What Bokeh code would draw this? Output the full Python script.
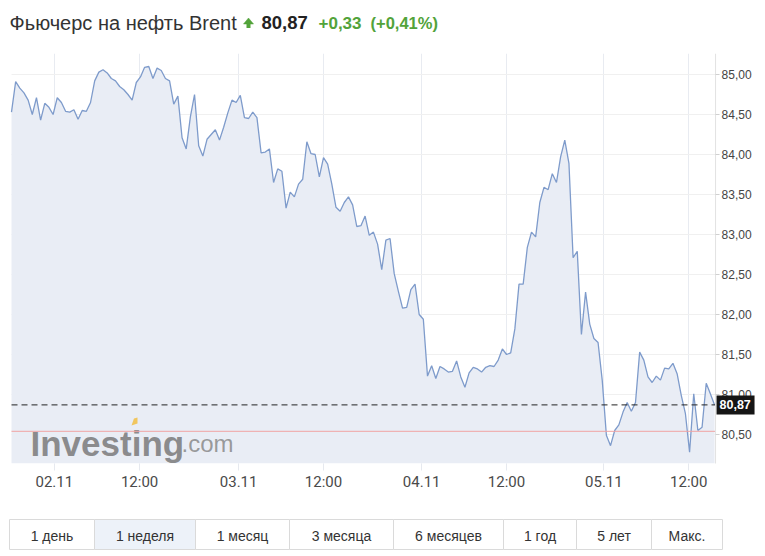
from bokeh.plotting import figure
from bokeh.layouts import column
from bokeh.models import Range1d, FixedTicker
from bokeh.core.properties import value
from bokeh.embed import file_html
from bokeh.resources import INLINE

# ---------------- data ----------------
prices = [
    84.53, 84.91, 84.83, 84.77, 84.68, 84.50, 84.71, 84.43, 84.64, 84.59,
    84.50, 84.71, 84.65, 84.54, 84.53, 84.56, 84.44, 84.55, 84.54, 84.65,
    84.92, 85.03, 85.06, 85.02, 84.95, 84.92, 84.85, 84.81, 84.75, 84.68,
    84.90, 84.97, 85.09, 85.10, 84.95, 85.08, 85.05, 84.95, 84.92, 84.63,
    84.73, 84.21, 84.07, 84.47, 84.75, 84.11, 83.98, 84.19, 84.25, 84.31,
    84.18, 84.34, 84.52, 84.68, 84.65, 84.74, 84.46, 84.45, 84.53, 84.46,
    84.02, 84.03, 84.07, 83.65, 83.82, 83.79, 83.33, 83.53, 83.47, 83.63,
    83.69, 84.16, 84.01, 84.00, 83.72, 83.96, 83.88, 83.63, 83.34, 83.29,
    83.40, 83.47, 83.37, 83.10, 83.11, 83.23, 82.99, 83.03, 82.88, 82.56,
    82.93, 82.95, 82.51, 82.29, 82.08, 82.09, 82.31, 82.38, 82.00, 81.94,
    81.23, 81.36, 81.20, 81.35, 81.32, 81.28, 81.29, 81.42, 81.22, 81.09,
    81.27, 81.34, 81.32, 81.28, 81.34, 81.36, 81.35, 81.43, 81.57, 81.50,
    81.52, 81.82, 82.38, 82.38, 82.84, 83.03, 82.97, 83.40, 83.59, 83.56,
    83.76, 83.65, 83.97, 84.18, 83.89, 82.71, 82.79, 81.75, 82.28, 81.88,
    81.70, 81.65, 81.18, 80.49, 80.36, 80.55, 80.62, 80.78, 80.90, 80.79,
    80.90, 81.53, 81.43, 81.22, 81.15, 81.23, 81.18, 81.33, 81.32, 81.39,
    81.26, 80.99, 80.76, 80.28, 81.01, 80.55, 80.59, 81.14, 81.01, 80.87,
]
x_idx = list(range(len(prices)))

x_tick_pos = [10.3, 30.8, 54.6, 75.0, 98.6, 119.0, 142.4, 162.8]
x_tick_labels = ["02.11", "12:00", "03.11", "12:00", "04.11", "12:00", "05.11", "12:00"]

y_ticks = [80.5, 81.0, 81.5, 82.0, 82.5, 83.0, 83.5, 84.0, 84.5, 85.0]
y_tick_labels = ["80,50", "81,00", "81,50", "82,00", "82,50", "83,00", "83,50", "84,00", "84,50", "85,00"]

last_price = 80.87
prev_close = 80.54
title_text = "Фьючерс на нефть Brent"
price_text = "80,87"
change_text = "+0,33"
change_pct_text = "(+0,41%)"

buttons = ["1 день", "1 неделя", "1 месяц", "3 месяца", "6 месяцев", "1 год", "5 лет", "Макс."]
button_edges = [9, 94, 195, 289, 393, 503, 576, 651, 722]
selected_button = 1

# ---------------- styling / layout constants ----------------
FONT = "Liberation Sans"
GREEN = "#52a33a"
W = 765
KX = 4.16          # pixels per data point
X0PX = 11          # pixel position of first point
KY = 80.0          # pixels per 1.0 of price
n = len(prices)
y0, y1 = 80.1375, 85.2625
x_start = -X0PX / KX
x_end = (W - X0PX) / KX
frame_right = (n - 1) + 1.0 / KX   # right edge of the plotting area


def px(d):
    return d / KX


# ---------------- header ----------------
hdr = figure(width=W, height=46, x_range=Range1d(0, W), y_range=Range1d(46, 0),
             output_backend="svg", toolbar_location=None,
             x_axis_location=None, y_axis_location=None, min_border=0,
             min_border_left=0, min_border_right=0, min_border_top=0, min_border_bottom=0)
hdr.outline_line_color = None
hdr.grid.visible = False
hdr.text(x=[9], y=[22], text=[title_text], text_font=value(FONT), text_font_size="20px",
         text_color="#333333", text_baseline="middle")
hdr.patch(x=[243, 253, 248], y=[23.5, 23.5, 17.5], fill_color=GREEN, line_color=GREEN, line_width=0.5)
hdr.quad(left=[246], right=[250], top=[23], bottom=[27.5], fill_color=GREEN, line_color=None)
hdr.text(x=[261], y=[22], text=[price_text], text_font=value(FONT), text_font_size="18.5px",
         text_font_style="bold", text_color="#222222", text_baseline="middle")
hdr.text(x=[318], y=[22], text=[change_text], text_font=value(FONT), text_font_size="17px",
         text_font_style="bold", text_color=GREEN, text_baseline="middle")
hdr.text(x=[370], y=[22], text=[change_pct_text], text_font=value(FONT), text_font_size="16.5px",
         text_font_style="bold", text_color=GREEN, text_baseline="middle")

# ---------------- main chart ----------------
p = figure(width=W, height=468, x_range=Range1d(x_start, x_end), y_range=Range1d(y0, y1),
           output_backend="svg", toolbar_location=None, y_axis_location=None,
           min_border_left=0, min_border_right=0, min_border_top=7, min_border_bottom=51)
p.outline_line_color = None
p.background_fill_color = "white"
p.ygrid.visible = False
p.xgrid.grid_line_color = "#e8ebf1"

# horizontal grid lines, stopping at the plot's right edge
p.segment(x0=[0] * len(y_ticks), x1=[frame_right] * len(y_ticks), y0=y_ticks, y1=y_ticks,
          line_color="#f0f0f0", line_width=1)

p.varea(x=x_idx, y1=[y0] * n, y2=prices, fill_color="#e9edf5")
p.line(x=x_idx, y=prices, line_color="#7e9bcb", line_width=1.3)

# watermark
p.text(x=[px(30 - X0PX)], y=[85 - (443 - 74) / KY], text=["Investing"], text_font=value(FONT),
       text_font_size="35px", text_font_style="bold", text_color="#7a7a7a", text_alpha=0.85,
       text_baseline="alphabetic")
p.text(x=[px(181 - X0PX)], y=[85 - (443 - 74) / KY], text=[".com"], text_font=value(FONT),
       text_font_size="24px", text_color="#8a8a8a", text_alpha=0.85, text_baseline="alphabetic")
p.patch(x=[px(131 - X0PX), px(137 - X0PX), px(137 - X0PX), px(133.5 - X0PX)],
        y=[85 - (425 - 74) / KY, 85 - (423 - 74) / KY, 85 - (417 - 74) / KY, 85 - (418 - 74) / KY],
        fill_color="#f2c14e", line_color=None, fill_alpha=0.9)

# previous close and last price lines
p.segment(x0=[0], x1=[frame_right], y0=[prev_close], y1=[prev_close], line_color="#f0a3a3", line_width=1)
p.segment(x0=[0], x1=[frame_right], y0=[last_price], y1=[last_price], line_color="#222222",
          line_width=1, line_dash="6 4")

# right value axis
p.segment(x0=[frame_right], x1=[frame_right], y0=[y1], y1=[y0 - 5 / KY], line_color="#e3e3e3", line_width=1)
p.segment(x0=[frame_right] * len(y_ticks), x1=[frame_right + px(4)] * len(y_ticks),
          y0=y_ticks, y1=y_ticks, line_color="#d0d0d0", line_width=1)
p.text(x=[frame_right + px(6)] * len(y_ticks), y=y_ticks, text=y_tick_labels, text_font=value(FONT),
       text_font_size="12px", text_color="#444444", text_baseline="middle", text_align="left")

# last price badge
p.quad(left=[frame_right + px(1)], right=[frame_right + px(39)],
       top=[last_price + 9.5 / KY], bottom=[last_price - 9.5 / KY],
       fill_color="#151515", line_color=None)
p.text(x=[frame_right + px(4)], y=[last_price], text=[price_text], text_font=value(FONT),
       text_font_size="12.5px", text_font_style="bold", text_color="white",
       text_baseline="middle", text_align="left")

xa = p.xaxis[0]
xa.ticker = FixedTicker(ticks=x_tick_pos)
xa.major_label_overrides = {t: l for t, l in zip(x_tick_pos, x_tick_labels)}
xa.axis_line_color = None
xa.major_tick_in = 0
xa.major_tick_out = 7
xa.major_tick_line_color = "#e6e9ef"
xa.minor_tick_line_color = None
xa.major_label_standoff = 2
xa.major_label_text_font = "Roboto"
xa.major_label_text_font_size = "15px"
xa.major_label_text_color = "#4a4a4a"

# ---------------- buttons ----------------
btn = figure(width=W, height=40, x_range=Range1d(0, W), y_range=Range1d(40, 0),
             output_backend="svg", toolbar_location=None,
             x_axis_location=None, y_axis_location=None, min_border=0,
             min_border_left=0, min_border_right=0, min_border_top=0, min_border_bottom=0)
btn.outline_line_color = None
btn.grid.visible = False
lefts = button_edges[:-1]
rights = button_edges[1:]
fills = ["#edf2f9" if i == selected_button else "white" for i in range(len(buttons))]
btn.quad(left=lefts, right=rights, top=[5] * len(buttons), bottom=[35] * len(buttons),
         fill_color=fills, line_color="#dadada", line_width=1)
btn.text(x=[(a + b) / 2 for a, b in zip(lefts, rights)], y=[21] * len(buttons), text=buttons,
         text_font=value(FONT), text_font_size="14px", text_color="#333333",
         text_align="center", text_baseline="middle")

layout = column(hdr, p, btn)
open("out.html", "w").write(file_html(layout, INLINE))
